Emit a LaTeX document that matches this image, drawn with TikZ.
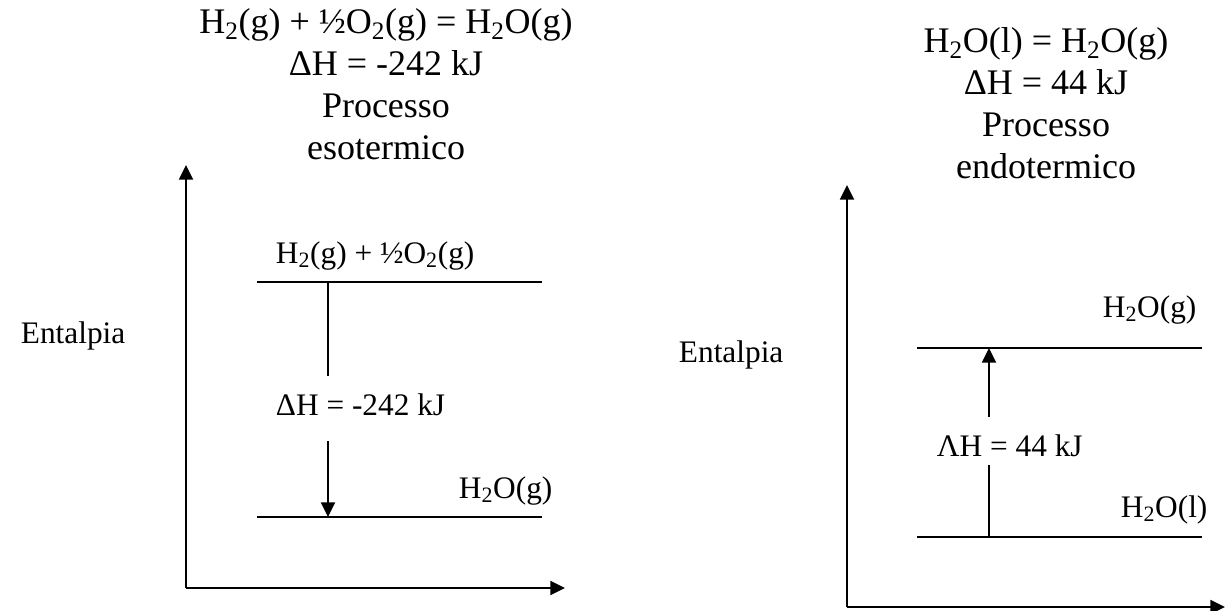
\documentclass[tikz,border=0pt]{standalone}
\usepackage{fontspec}
\setmainfont{Liberation Serif}
\usetikzlibrary{arrows.meta}
\newcommand{\lowidx}[1]{\textsubscript{#1}}

\begin{document}
\begin{tikzpicture}[
    x=0.75pt, y=-0.75pt,
    >={Triangle[length=11pt,width=10.5pt]},
    line width=1.4pt,
    title/.style={align=center, inner sep=0pt, anchor=north,
                  font=\fontsize{27}{31.5}\selectfont},
    lbl/.style={inner sep=0pt, anchor=base west,
                font=\fontsize{23.5}{28}\selectfont},
]
\useasboundingbox (0,0) rectangle (1227,610);

% ---- titles ----
\node[title] (exoTitle) at (386,8)
      {H\lowidx{2}(g) + ½O\lowidx{2}(g) = H\lowidx{2}O(g)\\ΔH = -242 kJ\\Processo\\esotermico};
\node[title] (endoTitle) at (1046,27)
      {H\lowidx{2}O(l) = H\lowidx{2}O(g)\\ΔH = 44 kJ\\Processo\\endotermico};

% ---- left diagram: esotermico ----
\coordinate (oL) at (186,588);
\coordinate (yL) at (186,165);
\coordinate (xL) at (565,588);
\draw[->] (oL) -- (yL);
\draw[->] (oL) -- (xL);

\coordinate (reagA) at (257,282);
\coordinate (reagB) at (542,282);
\coordinate (prodA) at (257,517);
\coordinate (prodB) at (542,517);
\draw (reagA) -- (reagB);
\draw (prodA) -- (prodB);

\node[lbl] (entL) at (20,343) {Entalpia};
\node[lbl] (reagLbl) at (275,263) {H\lowidx{2}(g) + ½O\lowidx{2}(g)};
\node[lbl] (prodLbl) at (458,498) {H\lowidx{2}O(g)};
\node[lbl] (dhExo) at (275,415) {ΔH = -242 kJ};

\coordinate (exoTop) at (328,282);
\coordinate (exoGapA) at (328,376);
\coordinate (exoGapB) at (328,441);
\coordinate (exoEnd) at (328,517);
\draw (exoTop) -- (exoGapA);
\draw[->] (exoGapB) -- (exoEnd);

% ---- right diagram: endotermico ----
\coordinate (oR) at (847,607);
\coordinate (yR) at (847,185);
\coordinate (xR) at (1225,607);
\draw[->] (oR) -- (yR);
\draw[->] (oR) -- (xR);

\coordinate (gasA) at (917,348);
\coordinate (gasB) at (1202,348);
\coordinate (liqA) at (917,537);
\coordinate (liqB) at (1202,537);
\draw (gasA) -- (gasB);
\draw (liqA) -- (liqB);

\node[lbl] (entR) at (678,362) {Entalpia};
\node[lbl] (gasLbl) at (1102,317) {H\lowidx{2}O(g)};
\node[lbl] (liqLbl) at (1120,517) {H\lowidx{2}O(l)};
\node[lbl] (dhEndo) at (936,456) {ΛH = 44 kJ};

\coordinate (endoStart) at (989,537);
\coordinate (endoGapA) at (989,465);
\coordinate (endoGapB) at (989,417);
\coordinate (endoEnd) at (989,348);
\draw (endoStart) -- (endoGapA);
\draw[->] (endoGapB) -- (endoEnd);

\end{tikzpicture}
\end{document}
